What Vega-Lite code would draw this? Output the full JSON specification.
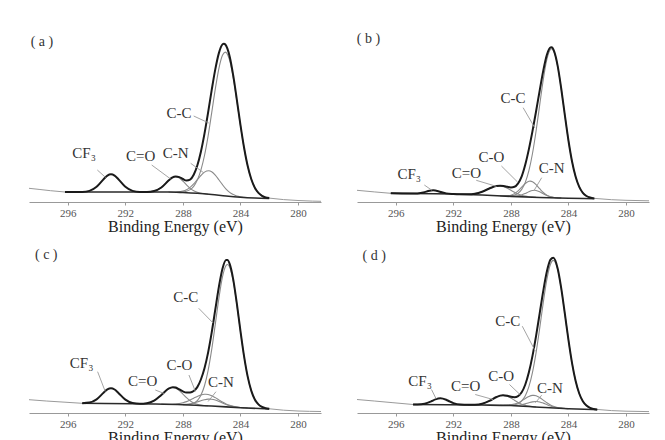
{
"$schema":"https://vega.github.io/schema/vega-lite/v6.json",
"padding":{"left":27,"top":27,"right":5,"bottom":0},
"background":"white",
"config":{"view":{"stroke":null},"font":"Liberation Serif"},
"datasets":{"all":[
{"p":"a","k":"env","x":296.2,"y":10},{"p":"a","k":"env","x":295.5,"y":10},{"p":"a","k":"env","x":295,"y":10.1},{"p":"a","k":"env","x":294.5,"y":11.1},{"p":"a","k":"env","x":294,"y":15.2},{"p":"a","k":"env","x":293.5,"y":23},{"p":"a","k":"env","x":293.25,"y":26.4},{"p":"a","k":"env","x":293,"y":27.7},{"p":"a","k":"env","x":292.75,"y":26.4},{"p":"a","k":"env","x":292.5,"y":23},{"p":"a","k":"env","x":292,"y":15.2},{"p":"a","k":"env","x":291.5,"y":11.1},{"p":"a","k":"env","x":291,"y":10.1},{"p":"a","k":"env","x":290.5,"y":10.1},{"p":"a","k":"env","x":290,"y":11},{"p":"a","k":"env","x":289.5,"y":14.5},{"p":"a","k":"env","x":289,"y":21.4},{"p":"a","k":"env","x":288.75,"y":24.4},{"p":"a","k":"env","x":288.5,"y":25.6},{"p":"a","k":"env","x":288.25,"y":24.9},{"p":"a","k":"env","x":288,"y":23},{"p":"a","k":"env","x":287.75,"y":21.5},{"p":"a","k":"env","x":287.5,"y":22.4},{"p":"a","k":"env","x":287.25,"y":27.2},{"p":"a","k":"env","x":287,"y":36.5},{"p":"a","k":"env","x":286.75,"y":50.3},{"p":"a","k":"env","x":286.5,"y":68.4},{"p":"a","k":"env","x":286.25,"y":89.4},{"p":"a","k":"env","x":286,"y":111.8},{"p":"a","k":"env","x":285.75,"y":132.6},{"p":"a","k":"env","x":285.5,"y":148.9},{"p":"a","k":"env","x":285.25,"y":157.6},{"p":"a","k":"env","x":285.15,"y":158.3},{"p":"a","k":"env","x":285.05,"y":157.5},{"p":"a","k":"env","x":284.75,"y":145.5},{"p":"a","k":"env","x":284.5,"y":126.3},{"p":"a","k":"env","x":284.25,"y":102.2},{"p":"a","k":"env","x":284,"y":77.1},{"p":"a","k":"env","x":283.75,"y":54.5},{"p":"a","k":"env","x":283.5,"y":36.2},{"p":"a","k":"env","x":283.25,"y":23},{"p":"a","k":"env","x":283,"y":14.3},{"p":"a","k":"env","x":282.75,"y":9.1},{"p":"a","k":"env","x":282.5,"y":6.2},{"p":"a","k":"env","x":282.25,"y":4.6},{"p":"a","k":"env","x":282,"y":3.9},
{"p":"a","k":"base","x":296.2,"y":10},{"p":"a","k":"base","x":289,"y":10},{"p":"a","k":"base","x":288,"y":9.5},{"p":"a","k":"base","x":287,"y":8.7},{"p":"a","k":"base","x":286,"y":7.5},{"p":"a","k":"base","x":285,"y":6},{"p":"a","k":"base","x":284,"y":4.8},{"p":"a","k":"base","x":283,"y":4},{"p":"a","k":"base","x":282,"y":3.5},
{"p":"a","k":"comp","s":"CO","x":290.75,"y":10},{"p":"a","k":"comp","s":"CO","x":290.5,"y":10.1},{"p":"a","k":"comp","s":"CO","x":290,"y":11},{"p":"a","k":"comp","s":"CO","x":289.5,"y":14.5},{"p":"a","k":"comp","s":"CO","x":289,"y":21.4},{"p":"a","k":"comp","s":"CO","x":288.75,"y":24.2},{"p":"a","k":"comp","s":"CO","x":288.5,"y":25.25},{"p":"a","k":"comp","s":"CO","x":288.25,"y":24},{"p":"a","k":"comp","s":"CO","x":288,"y":20.9},{"p":"a","k":"comp","s":"CO","x":287.75,"y":17.05},{"p":"a","k":"comp","s":"CO","x":287.5,"y":13.6},{"p":"a","k":"comp","s":"CO","x":287.25,"y":11.2},{"p":"a","k":"comp","s":"CO","x":287,"y":9.7},{"p":"a","k":"comp","s":"CO","x":286.75,"y":8.8},{"p":"a","k":"comp","s":"CO","x":286.5,"y":8.2},{"p":"a","k":"comp","s":"CO","x":286.25,"y":7.8},
{"p":"a","k":"comp","s":"CN","x":289,"y":10},{"p":"a","k":"comp","s":"CN","x":288.5,"y":10},{"p":"a","k":"comp","s":"CN","x":288,"y":11},{"p":"a","k":"comp","s":"CN","x":287.75,"y":12.3},{"p":"a","k":"comp","s":"CN","x":287.5,"y":14.6},{"p":"a","k":"comp","s":"CN","x":287.25,"y":18.1},{"p":"a","k":"comp","s":"CN","x":287,"y":22.3},{"p":"a","k":"comp","s":"CN","x":286.75,"y":26.5},{"p":"a","k":"comp","s":"CN","x":286.5,"y":29.9},{"p":"a","k":"comp","s":"CN","x":286.2,"y":31.2},{"p":"a","k":"comp","s":"CN","x":286,"y":30.2},{"p":"a","k":"comp","s":"CN","x":285.75,"y":26.9},{"p":"a","k":"comp","s":"CN","x":285.5,"y":22.25},{"p":"a","k":"comp","s":"CN","x":285.25,"y":17.3},{"p":"a","k":"comp","s":"CN","x":285,"y":12.9},{"p":"a","k":"comp","s":"CN","x":284.75,"y":9.6},{"p":"a","k":"comp","s":"CN","x":284.5,"y":7.4},{"p":"a","k":"comp","s":"CN","x":284.25,"y":6},{"p":"a","k":"comp","s":"CN","x":284,"y":5.2},{"p":"a","k":"comp","s":"CN","x":283.5,"y":4.5},
{"p":"a","k":"comp","s":"CC","x":288.5,"y":9.8},{"p":"a","k":"comp","s":"CC","x":288,"y":10.1},{"p":"a","k":"comp","s":"CC","x":287.75,"y":10.8},{"p":"a","k":"comp","s":"CC","x":287.5,"y":12.4},{"p":"a","k":"comp","s":"CC","x":287.25,"y":15.7},{"p":"a","k":"comp","s":"CC","x":287,"y":21.9},{"p":"a","k":"comp","s":"CC","x":286.75,"y":31.8},{"p":"a","k":"comp","s":"CC","x":286.5,"y":46.5},{"p":"a","k":"comp","s":"CC","x":286.25,"y":65.9},{"p":"a","k":"comp","s":"CC","x":286,"y":89.1},{"p":"a","k":"comp","s":"CC","x":285.75,"y":112.8},{"p":"a","k":"comp","s":"CC","x":285.5,"y":133.4},{"p":"a","k":"comp","s":"CC","x":285.25,"y":146.7},{"p":"a","k":"comp","s":"CC","x":285.05,"y":149.9},{"p":"a","k":"comp","s":"CC","x":284.75,"y":141.6},{"p":"a","k":"comp","s":"CC","x":284.5,"y":124.3},{"p":"a","k":"comp","s":"CC","x":284.25,"y":101.3},{"p":"a","k":"comp","s":"CC","x":284,"y":76.7},{"p":"a","k":"comp","s":"CC","x":283.75,"y":54.3},{"p":"a","k":"comp","s":"CC","x":283.5,"y":36.1},{"p":"a","k":"comp","s":"CC","x":283.25,"y":23},{"p":"a","k":"comp","s":"CC","x":283,"y":14.3},{"p":"a","k":"comp","s":"CC","x":282.75,"y":9.1},{"p":"a","k":"comp","s":"CC","x":282.5,"y":6.2},{"p":"a","k":"comp","s":"CC","x":282.25,"y":4.6},{"p":"a","k":"comp","s":"CC","x":282,"y":3.9},
{"p":"a","k":"raw","s":"L","x":298.7,"y":13.7},{"p":"a","k":"raw","s":"L","x":298,"y":12.6},{"p":"a","k":"raw","s":"L","x":297.2,"y":11.3},{"p":"a","k":"raw","s":"L","x":296.2,"y":10},
{"p":"a","k":"raw","s":"R","x":282,"y":3.9},{"p":"a","k":"raw","s":"R","x":281,"y":2.4},{"p":"a","k":"raw","s":"R","x":280,"y":1.5},{"p":"a","k":"raw","s":"R","x":279,"y":0.9},{"p":"a","k":"raw","s":"R","x":278.4,"y":0.7},
{"p":"a","k":"lead","s":"1","x":287.25,"y":86},{"p":"a","k":"lead","s":"1","x":286.2,"y":79},{"p":"a","k":"lead","s":"2","x":293.95,"y":32},{"p":"a","k":"lead","s":"2","x":293.37,"y":24.5},{"p":"a","k":"lead","s":"3","x":290.17,"y":37},{"p":"a","k":"lead","s":"3","x":288.85,"y":23},{"p":"a","k":"lead","s":"4","x":287.46,"y":38.7},{"p":"a","k":"lead","s":"4","x":286.53,"y":29},
{"p":"a","k":"lab","t":"C-C","x":288.27,"y":88.7},{"p":"a","k":"lab","t":"CF₃","x":294.87,"y":48.7},{"p":"a","k":"lab","t":"C=O","x":290.94,"y":46},{"p":"a","k":"lab","t":"C-N","x":288.5,"y":49.3},
{"p":"a","k":"tag","t":"( a )","x":297.8,"y":160.3},

{"p":"b","k":"env","x":296.35,"y":8.7},{"p":"b","k":"env","x":295.5,"y":8.56},{"p":"b","k":"env","x":295,"y":8.49},{"p":"b","k":"env","x":294.5,"y":8.62},{"p":"b","k":"env","x":294,"y":9.86},{"p":"b","k":"env","x":293.75,"y":10.93},{"p":"b","k":"env","x":293.4,"y":11.72},{"p":"b","k":"env","x":293,"y":10.59},{"p":"b","k":"env","x":292.75,"y":9.45},{"p":"b","k":"env","x":292.5,"y":8.63},{"p":"b","k":"env","x":292,"y":8.04},{"p":"b","k":"env","x":291.5,"y":7.79},{"p":"b","k":"env","x":291,"y":7.74},{"p":"b","k":"env","x":290.5,"y":8.34},{"p":"b","k":"env","x":290,"y":10.3},{"p":"b","k":"env","x":289.5,"y":13.52},{"p":"b","k":"env","x":289.25,"y":15.04},{"p":"b","k":"env","x":289,"y":16},{"p":"b","k":"env","x":288.75,"y":16.3},{"p":"b","k":"env","x":288.5,"y":16},{"p":"b","k":"env","x":288.25,"y":15.2},{"p":"b","k":"env","x":288,"y":14.6},{"p":"b","k":"env","x":287.75,"y":15.2},{"p":"b","k":"env","x":287.5,"y":18.6},{"p":"b","k":"env","x":287.25,"y":25.65},{"p":"b","k":"env","x":287,"y":37.44},{"p":"b","k":"env","x":286.75,"y":52.89},{"p":"b","k":"env","x":286.5,"y":70.9},{"p":"b","k":"env","x":286.25,"y":90.75},{"p":"b","k":"env","x":286,"y":111.43},{"p":"b","k":"env","x":285.75,"y":131.39},{"p":"b","k":"env","x":285.5,"y":147.14},{"p":"b","k":"env","x":285.25,"y":154.5},{"p":"b","k":"env","x":285.17,"y":154.64},{"p":"b","k":"env","x":285,"y":150.84},{"p":"b","k":"env","x":284.75,"y":136.16},{"p":"b","k":"env","x":284.5,"y":113.24},{"p":"b","k":"env","x":284.25,"y":86.79},{"p":"b","k":"env","x":284,"y":61.5},{"p":"b","k":"env","x":283.75,"y":40.53},{"p":"b","k":"env","x":283.5,"y":25.26},{"p":"b","k":"env","x":283.25,"y":15.19},{"p":"b","k":"env","x":283,"y":9.22},{"p":"b","k":"env","x":282.75,"y":6.02},{"p":"b","k":"env","x":282.5,"y":4.44},{"p":"b","k":"env","x":282.2,"y":3.63},
{"p":"b","k":"base","x":296.35,"y":8.7},{"p":"b","k":"base","x":292,"y":8},{"p":"b","k":"base","x":290,"y":7},{"p":"b","k":"base","x":288,"y":5.6},{"p":"b","k":"base","x":286,"y":4.5},{"p":"b","k":"base","x":284,"y":3.8},{"p":"b","k":"base","x":282.2,"y":3.3},
{"p":"b","k":"comp","s":"CO","x":291.5,"y":7.79},{"p":"b","k":"comp","s":"CO","x":291,"y":7.74},{"p":"b","k":"comp","s":"CO","x":290.5,"y":8.34},{"p":"b","k":"comp","s":"CO","x":290,"y":10.3},{"p":"b","k":"comp","s":"CO","x":289.5,"y":13.52},{"p":"b","k":"comp","s":"CO","x":289.25,"y":15.04},{"p":"b","k":"comp","s":"CO","x":289,"y":16},{"p":"b","k":"comp","s":"CO","x":288.75,"y":16.13},{"p":"b","k":"comp","s":"CO","x":288.5,"y":15.28},{"p":"b","k":"comp","s":"CO","x":288.25,"y":13.71},{"p":"b","k":"comp","s":"CO","x":288,"y":11.72},{"p":"b","k":"comp","s":"CO","x":287.75,"y":9.74},{"p":"b","k":"comp","s":"CO","x":287.5,"y":8.06},{"p":"b","k":"comp","s":"CO","x":287.25,"y":6.77},{"p":"b","k":"comp","s":"CO","x":287,"y":5.88},{"p":"b","k":"comp","s":"CO","x":286.75,"y":5.31},{"p":"b","k":"comp","s":"CO","x":286.5,"y":4.95},{"p":"b","k":"comp","s":"CO","x":286.25,"y":4.71},
{"p":"b","k":"comp","s":"CO2","x":288.75,"y":6.16},{"p":"b","k":"comp","s":"CO2","x":288.5,"y":6.08},{"p":"b","k":"comp","s":"CO2","x":288.25,"y":6.21},{"p":"b","k":"comp","s":"CO2","x":288,"y":6.82},{"p":"b","k":"comp","s":"CO2","x":287.75,"y":8.35},{"p":"b","k":"comp","s":"CO2","x":287.5,"y":11.09},{"p":"b","k":"comp","s":"CO2","x":287.25,"y":14.79},{"p":"b","k":"comp","s":"CO2","x":287,"y":18.51},{"p":"b","k":"comp","s":"CO2","x":286.75,"y":20.71},{"p":"b","k":"comp","s":"CO2","x":286.65,"y":20.86},{"p":"b","k":"comp","s":"CO2","x":286.5,"y":20.28},{"p":"b","k":"comp","s":"CO2","x":286.25,"y":17.39},{"p":"b","k":"comp","s":"CO2","x":286,"y":13.3},{"p":"b","k":"comp","s":"CO2","x":285.75,"y":9.51},{"p":"b","k":"comp","s":"CO2","x":285.5,"y":6.8},{"p":"b","k":"comp","s":"CO2","x":285.25,"y":5.24},{"p":"b","k":"comp","s":"CO2","x":285,"y":4.49},{"p":"b","k":"comp","s":"CO2","x":284.75,"y":4.16},{"p":"b","k":"comp","s":"CO2","x":284.5,"y":4},
{"p":"b","k":"comp","s":"CN","x":288.25,"y":5.8},{"p":"b","k":"comp","s":"CN","x":288,"y":5.68},{"p":"b","k":"comp","s":"CN","x":287.75,"y":5.74},{"p":"b","k":"comp","s":"CN","x":287.5,"y":6.13},{"p":"b","k":"comp","s":"CN","x":287.25,"y":7.05},{"p":"b","k":"comp","s":"CN","x":287,"y":8.55},{"p":"b","k":"comp","s":"CN","x":286.75,"y":10.29},{"p":"b","k":"comp","s":"CN","x":286.5,"y":11.53},{"p":"b","k":"comp","s":"CN","x":286.35,"y":11.7},{"p":"b","k":"comp","s":"CN","x":286.25,"y":11.53},{"p":"b","k":"comp","s":"CN","x":286,"y":10.23},{"p":"b","k":"comp","s":"CN","x":285.75,"y":8.29},{"p":"b","k":"comp","s":"CN","x":285.5,"y":6.47},{"p":"b","k":"comp","s":"CN","x":285.25,"y":5.2},{"p":"b","k":"comp","s":"CN","x":285,"y":4.5},{"p":"b","k":"comp","s":"CN","x":284.75,"y":4.16},{"p":"b","k":"comp","s":"CN","x":284.5,"y":4},
{"p":"b","k":"comp","s":"CC","x":288.5,"y":6.02},{"p":"b","k":"comp","s":"CC","x":288,"y":6.18},{"p":"b","k":"comp","s":"CC","x":287.75,"y":6.94},{"p":"b","k":"comp","s":"CC","x":287.5,"y":8.79},{"p":"b","k":"comp","s":"CC","x":287.25,"y":12.61},{"p":"b","k":"comp","s":"CC","x":287,"y":19.65},{"p":"b","k":"comp","s":"CC","x":286.75,"y":31.31},{"p":"b","k":"comp","s":"CC","x":286.5,"y":48.48},{"p":"b","k":"comp","s":"CC","x":286.25,"y":71.04},{"p":"b","k":"comp","s":"CC","x":286,"y":96.9},{"p":"b","k":"comp","s":"CC","x":285.75,"y":122.41},{"p":"b","k":"comp","s":"CC","x":285.5,"y":142.53},{"p":"b","k":"comp","s":"CC","x":285.25,"y":152.54},{"p":"b","k":"comp","s":"CC","x":285.17,"y":153.21},{"p":"b","k":"comp","s":"CC","x":285,"y":150.15},{"p":"b","k":"comp","s":"CC","x":284.75,"y":135.96},{"p":"b","k":"comp","s":"CC","x":284.5,"y":113.18},{"p":"b","k":"comp","s":"CC","x":284.25,"y":86.79},{"p":"b","k":"comp","s":"CC","x":284,"y":61.5},{"p":"b","k":"comp","s":"CC","x":283.75,"y":40.53},{"p":"b","k":"comp","s":"CC","x":283.5,"y":25.26},{"p":"b","k":"comp","s":"CC","x":283.25,"y":15.19},{"p":"b","k":"comp","s":"CC","x":283,"y":9.22},{"p":"b","k":"comp","s":"CC","x":282.75,"y":6.02},{"p":"b","k":"comp","s":"CC","x":282.5,"y":4.44},{"p":"b","k":"comp","s":"CC","x":282.2,"y":3.63},
{"p":"b","k":"raw","s":"L","x":298.7,"y":11.7},{"p":"b","k":"raw","s":"L","x":297.5,"y":10.1},{"p":"b","k":"raw","s":"L","x":296.35,"y":8.7},
{"p":"b","k":"raw","s":"R","x":282.2,"y":3.63},{"p":"b","k":"raw","s":"R","x":281,"y":2.3},{"p":"b","k":"raw","s":"R","x":280,"y":1.7},{"p":"b","k":"raw","s":"R","x":278.4,"y":1.2},
{"p":"b","k":"lead","s":"1","x":287.15,"y":94.3},{"p":"b","k":"lead","s":"1","x":286.33,"y":74},{"p":"b","k":"lead","s":"2","x":294.02,"y":17},{"p":"b","k":"lead","s":"2","x":293.5,"y":11.8},{"p":"b","k":"lead","s":"3","x":290.41,"y":21.7},{"p":"b","k":"lead","s":"3","x":289,"y":15.6},{"p":"b","k":"lead","s":"4","x":288.66,"y":36},{"p":"b","k":"lead","s":"4","x":287.54,"y":20},{"p":"b","k":"lead","s":"5","x":285.86,"y":24.3},{"p":"b","k":"lead","s":"5","x":286.38,"y":11.8},
{"p":"b","k":"lab","t":"C-C","x":287.85,"y":104.3},{"p":"b","k":"lab","t":"CF₃","x":295.07,"y":27.7},{"p":"b","k":"lab","t":"C=O","x":291.1,"y":29.3},{"p":"b","k":"lab","t":"C-O","x":289.36,"y":45},{"p":"b","k":"lab","t":"C-N","x":285.16,"y":34.3},
{"p":"b","k":"tag","t":"( b )","x":297.9,"y":162.7},

{"p":"c","k":"env","x":295,"y":9.78},{"p":"c","k":"env","x":294.5,"y":10.42},{"p":"c","k":"env","x":294,"y":13.65},{"p":"c","k":"env","x":293.5,"y":20.49},{"p":"c","k":"env","x":293.25,"y":23.54},{"p":"c","k":"env","x":293,"y":24.72},{"p":"c","k":"env","x":292.75,"y":23.48},{"p":"c","k":"env","x":292.5,"y":20.35},{"p":"c","k":"env","x":292,"y":13.37},{"p":"c","k":"env","x":291.5,"y":10},{"p":"c","k":"env","x":291,"y":9.32},{"p":"c","k":"env","x":290.5,"y":9.83},{"p":"c","k":"env","x":290,"y":12.36},{"p":"c","k":"env","x":289.5,"y":18.05},{"p":"c","k":"env","x":289,"y":24.36},{"p":"c","k":"env","x":288.7,"y":25.86},{"p":"c","k":"env","x":288.5,"y":25.43},{"p":"c","k":"env","x":288.25,"y":23.59},{"p":"c","k":"env","x":288,"y":21.6},{"p":"c","k":"env","x":287.75,"y":20.5},{"p":"c","k":"env","x":287.5,"y":20.6},{"p":"c","k":"env","x":287.25,"y":22},{"p":"c","k":"env","x":287,"y":25.89},{"p":"c","k":"env","x":286.75,"y":33.51},{"p":"c","k":"env","x":286.5,"y":44.74},{"p":"c","k":"env","x":286.25,"y":60.4},{"p":"c","k":"env","x":286,"y":80.33},{"p":"c","k":"env","x":285.75,"y":103.29},{"p":"c","k":"env","x":285.5,"y":126.14},{"p":"c","k":"env","x":285.25,"y":144.33},{"p":"c","k":"env","x":285,"y":152.93},{"p":"c","k":"env","x":284.9,"y":152.98},{"p":"c","k":"env","x":284.75,"y":149.11},{"p":"c","k":"env","x":284.5,"y":133.43},{"p":"c","k":"env","x":284.25,"y":109.34},{"p":"c","k":"env","x":284,"y":82.17},{"p":"c","k":"env","x":283.75,"y":56.89},{"p":"c","k":"env","x":283.5,"y":36.61},{"p":"c","k":"env","x":283.25,"y":22.41},{"p":"c","k":"env","x":283,"y":13.55},{"p":"c","k":"env","x":282.75,"y":8.58},{"p":"c","k":"env","x":282.5,"y":6.04},{"p":"c","k":"env","x":282.25,"y":4.81},{"p":"c","k":"env","x":282,"y":4.22},
{"p":"c","k":"base","x":295,"y":9.7},{"p":"c","k":"base","x":290,"y":9},{"p":"c","k":"base","x":288,"y":8.3},{"p":"c","k":"base","x":286,"y":7},{"p":"c","k":"base","x":284,"y":5.3},{"p":"c","k":"base","x":282,"y":4},
{"p":"c","k":"comp","s":"CO","x":291,"y":9.24},{"p":"c","k":"comp","s":"CO","x":290.5,"y":9.83},{"p":"c","k":"comp","s":"CO","x":290,"y":12.36},{"p":"c","k":"comp","s":"CO","x":289.5,"y":18.03},{"p":"c","k":"comp","s":"CO","x":289,"y":24.25},{"p":"c","k":"comp","s":"CO","x":288.7,"y":25.55},{"p":"c","k":"comp","s":"CO","x":288.5,"y":24.84},{"p":"c","k":"comp","s":"CO","x":288.25,"y":22.39},{"p":"c","k":"comp","s":"CO","x":288,"y":18.93},{"p":"c","k":"comp","s":"CO","x":287.75,"y":15.29},{"p":"c","k":"comp","s":"CO","x":287.5,"y":12.25},{"p":"c","k":"comp","s":"CO","x":287.25,"y":10.07},{"p":"c","k":"comp","s":"CO","x":287,"y":8.71},{"p":"c","k":"comp","s":"CO","x":286.75,"y":7.93},{"p":"c","k":"comp","s":"CO","x":286.5,"y":7.49},{"p":"c","k":"comp","s":"CO","x":286.25,"y":7.21},
{"p":"c","k":"comp","s":"CO2","x":289.5,"y":8.85},{"p":"c","k":"comp","s":"CO2","x":289,"y":8.76},{"p":"c","k":"comp","s":"CO2","x":288.5,"y":9.02},{"p":"c","k":"comp","s":"CO2","x":288,"y":10.26},{"p":"c","k":"comp","s":"CO2","x":287.75,"y":11.39},{"p":"c","k":"comp","s":"CO2","x":287.5,"y":12.95},{"p":"c","k":"comp","s":"CO2","x":287.25,"y":14.78},{"p":"c","k":"comp","s":"CO2","x":287,"y":16.61},{"p":"c","k":"comp","s":"CO2","x":286.75,"y":18.06},{"p":"c","k":"comp","s":"CO2","x":286.5,"y":18.75},{"p":"c","k":"comp","s":"CO2","x":286.4,"y":18.76},{"p":"c","k":"comp","s":"CO2","x":286.25,"y":18.48},{"p":"c","k":"comp","s":"CO2","x":286,"y":17.29},{"p":"c","k":"comp","s":"CO2","x":285.75,"y":15.37},{"p":"c","k":"comp","s":"CO2","x":285.5,"y":13.14},{"p":"c","k":"comp","s":"CO2","x":285.25,"y":10.96},{"p":"c","k":"comp","s":"CO2","x":285,"y":9.11},{"p":"c","k":"comp","s":"CO2","x":284.75,"y":7.68},{"p":"c","k":"comp","s":"CO2","x":284.5,"y":6.67},{"p":"c","k":"comp","s":"CO2","x":284.25,"y":5.98},{"p":"c","k":"comp","s":"CO2","x":284,"y":5.51},{"p":"c","k":"comp","s":"CO2","x":283.5,"y":5.01},
{"p":"c","k":"comp","s":"CN","x":288.5,"y":8.53},{"p":"c","k":"comp","s":"CN","x":288,"y":8.61},{"p":"c","k":"comp","s":"CN","x":287.75,"y":8.8},{"p":"c","k":"comp","s":"CN","x":287.5,"y":9.25},{"p":"c","k":"comp","s":"CN","x":287.25,"y":10},{"p":"c","k":"comp","s":"CN","x":287,"y":11.05},{"p":"c","k":"comp","s":"CN","x":286.75,"y":12.23},{"p":"c","k":"comp","s":"CN","x":286.5,"y":13.26},{"p":"c","k":"comp","s":"CN","x":286.25,"y":13.83},{"p":"c","k":"comp","s":"CN","x":286.1,"y":13.86},{"p":"c","k":"comp","s":"CN","x":286,"y":13.74},{"p":"c","k":"comp","s":"CN","x":285.75,"y":12.91},{"p":"c","k":"comp","s":"CN","x":285.5,"y":11.58},{"p":"c","k":"comp","s":"CN","x":285.25,"y":10.03},{"p":"c","k":"comp","s":"CN","x":285,"y":8.57},{"p":"c","k":"comp","s":"CN","x":284.75,"y":7.37},{"p":"c","k":"comp","s":"CN","x":284.5,"y":6.49},{"p":"c","k":"comp","s":"CN","x":284.25,"y":5.87},{"p":"c","k":"comp","s":"CN","x":284,"y":5.46},{"p":"c","k":"comp","s":"CN","x":283.75,"y":5.2},
{"p":"c","k":"comp","s":"CC","x":288,"y":8.39},{"p":"c","k":"comp","s":"CC","x":287.75,"y":8.42},{"p":"c","k":"comp","s":"CC","x":287.5,"y":8.78},{"p":"c","k":"comp","s":"CC","x":287.25,"y":9.86},{"p":"c","k":"comp","s":"CC","x":287,"y":12.47},{"p":"c","k":"comp","s":"CC","x":286.75,"y":17.76},{"p":"c","k":"comp","s":"CC","x":286.5,"y":27.23},{"p":"c","k":"comp","s":"CC","x":286.25,"y":42.36},{"p":"c","k":"comp","s":"CC","x":286,"y":63.3},{"p":"c","k":"comp","s":"CC","x":285.75,"y":88.59},{"p":"c","k":"comp","s":"CC","x":285.5,"y":114.58},{"p":"c","k":"comp","s":"CC","x":285.25,"y":136.06},{"p":"c","k":"comp","s":"CC","x":285,"y":147.55},{"p":"c","k":"comp","s":"CC","x":284.9,"y":148.57},{"p":"c","k":"comp","s":"CC","x":284.75,"y":145.94},{"p":"c","k":"comp","s":"CC","x":284.5,"y":131.73},{"p":"c","k":"comp","s":"CC","x":284.25,"y":108.51},{"p":"c","k":"comp","s":"CC","x":284,"y":81.8},{"p":"c","k":"comp","s":"CC","x":283.75,"y":56.74},{"p":"c","k":"comp","s":"CC","x":283.5,"y":36.58},{"p":"c","k":"comp","s":"CC","x":283.25,"y":22.41},{"p":"c","k":"comp","s":"CC","x":283,"y":13.55},{"p":"c","k":"comp","s":"CC","x":282.75,"y":8.58},{"p":"c","k":"comp","s":"CC","x":282.5,"y":6.04},{"p":"c","k":"comp","s":"CC","x":282.25,"y":4.81},{"p":"c","k":"comp","s":"CC","x":282,"y":4.22},
{"p":"c","k":"raw","s":"L","x":298.7,"y":13.3},{"p":"c","k":"raw","s":"L","x":297.5,"y":12},{"p":"c","k":"raw","s":"L","x":296.2,"y":10.8},{"p":"c","k":"raw","s":"L","x":295,"y":9.7},
{"p":"c","k":"raw","s":"R","x":282,"y":4.22},{"p":"c","k":"raw","s":"R","x":281,"y":2.8},{"p":"c","k":"raw","s":"R","x":280,"y":2},{"p":"c","k":"raw","s":"R","x":278.4,"y":1.5},
{"p":"c","k":"lead","s":"1","x":286.9,"y":104.7},{"p":"c","k":"lead","s":"1","x":285.9,"y":90},{"p":"c","k":"lead","s":"2","x":293.93,"y":41.3},{"p":"c","k":"lead","s":"2","x":293.4,"y":21.5},{"p":"c","k":"lead","s":"3","x":289.92,"y":23},{"p":"c","k":"lead","s":"3","x":289.3,"y":19.5},{"p":"c","k":"lead","s":"4","x":287.58,"y":38},{"p":"c","k":"lead","s":"4","x":287.13,"y":21.5},{"p":"c","k":"lead","s":"5","x":285.7,"y":21.3},{"p":"c","k":"lead","s":"5","x":286.25,"y":11.5},
{"p":"c","k":"lab","t":"C-C","x":287.8,"y":116.3},{"p":"c","k":"lab","t":"CF₃","x":295.04,"y":49.7},{"p":"c","k":"lab","t":"C=O","x":290.8,"y":32},{"p":"c","k":"lab","t":"C-O","x":288.25,"y":48},{"p":"c","k":"lab","t":"C-N","x":285.35,"y":31.3},
{"p":"c","k":"tag","t":"( c )","x":297.5,"y":158},

{"p":"d","k":"env","x":294.8,"y":8.52},{"p":"d","k":"env","x":294.5,"y":8.57},{"p":"d","k":"env","x":294,"y":9.31},{"p":"d","k":"env","x":293.5,"y":11.96},{"p":"d","k":"env","x":293.25,"y":13.66},{"p":"d","k":"env","x":292.9,"y":14.8},{"p":"d","k":"env","x":292.5,"y":13.26},{"p":"d","k":"env","x":292.25,"y":11.48},{"p":"d","k":"env","x":292,"y":9.93},{"p":"d","k":"env","x":291.5,"y":8.42},{"p":"d","k":"env","x":291,"y":8.15},{"p":"d","k":"env","x":290.5,"y":8.31},{"p":"d","k":"env","x":290,"y":9.33},{"p":"d","k":"env","x":289.5,"y":12.09},{"p":"d","k":"env","x":289,"y":15.98},{"p":"d","k":"env","x":288.75,"y":17.35},{"p":"d","k":"env","x":288.55,"y":17.76},{"p":"d","k":"env","x":288.25,"y":17.16},{"p":"d","k":"env","x":288,"y":16.15},{"p":"d","k":"env","x":287.75,"y":15.8},{"p":"d","k":"env","x":287.5,"y":16.9},{"p":"d","k":"env","x":287.25,"y":20.67},{"p":"d","k":"env","x":287,"y":28.5},{"p":"d","k":"env","x":286.75,"y":40.65},{"p":"d","k":"env","x":286.5,"y":57.11},{"p":"d","k":"env","x":286.25,"y":77.17},{"p":"d","k":"env","x":286,"y":99.6},{"p":"d","k":"env","x":285.75,"y":122.17},{"p":"d","k":"env","x":285.5,"y":141.41},{"p":"d","k":"env","x":285.25,"y":153.29},{"p":"d","k":"env","x":285.05,"y":155.27},{"p":"d","k":"env","x":284.75,"y":144.57},{"p":"d","k":"env","x":284.5,"y":124.67},{"p":"d","k":"env","x":284.25,"y":99.32},{"p":"d","k":"env","x":284,"y":73.05},{"p":"d","k":"env","x":283.75,"y":49.88},{"p":"d","k":"env","x":283.5,"y":31.95},{"p":"d","k":"env","x":283.25,"y":19.53},{"p":"d","k":"env","x":283,"y":11.8},{"p":"d","k":"env","x":282.75,"y":7.46},{"p":"d","k":"env","x":282.5,"y":5.17},{"p":"d","k":"env","x":282.25,"y":4.08},{"p":"d","k":"env","x":282,"y":3.54},
{"p":"d","k":"base","x":294.8,"y":8.5},{"p":"d","k":"base","x":290,"y":8},{"p":"d","k":"base","x":288,"y":7.5},{"p":"d","k":"base","x":286,"y":5.8},{"p":"d","k":"base","x":284,"y":4.3},{"p":"d","k":"base","x":282,"y":3.3},
{"p":"d","k":"comp","s":"CO","x":291,"y":8.13},{"p":"d","k":"comp","s":"CO","x":290.5,"y":8.31},{"p":"d","k":"comp","s":"CO","x":290,"y":9.33},{"p":"d","k":"comp","s":"CO","x":289.5,"y":12.09},{"p":"d","k":"comp","s":"CO","x":289,"y":15.98},{"p":"d","k":"comp","s":"CO","x":288.75,"y":17.31},{"p":"d","k":"comp","s":"CO","x":288.55,"y":17.64},{"p":"d","k":"comp","s":"CO","x":288.25,"y":16.73},{"p":"d","k":"comp","s":"CO","x":288,"y":14.98},{"p":"d","k":"comp","s":"CO","x":287.75,"y":12.7},{"p":"d","k":"comp","s":"CO","x":287.5,"y":10.55},{"p":"d","k":"comp","s":"CO","x":287.25,"y":8.84},{"p":"d","k":"comp","s":"CO","x":287,"y":7.65},{"p":"d","k":"comp","s":"CO","x":286.75,"y":6.89},{"p":"d","k":"comp","s":"CO","x":286.5,"y":6.41},{"p":"d","k":"comp","s":"CO","x":286.25,"y":6.07},
{"p":"d","k":"comp","s":"CO2","x":288.75,"y":7.72},{"p":"d","k":"comp","s":"CO2","x":288.5,"y":7.7},{"p":"d","k":"comp","s":"CO2","x":288.25,"y":7.84},{"p":"d","k":"comp","s":"CO2","x":288,"y":8.22},{"p":"d","k":"comp","s":"CO2","x":287.75,"y":8.89},{"p":"d","k":"comp","s":"CO2","x":287.5,"y":10.18},{"p":"d","k":"comp","s":"CO2","x":287.25,"y":12.12},{"p":"d","k":"comp","s":"CO2","x":287,"y":14.44},{"p":"d","k":"comp","s":"CO2","x":286.75,"y":16.51},{"p":"d","k":"comp","s":"CO2","x":286.5,"y":17.61},{"p":"d","k":"comp","s":"CO2","x":286.4,"y":17.65},{"p":"d","k":"comp","s":"CO2","x":286.25,"y":17.23},{"p":"d","k":"comp","s":"CO2","x":286,"y":15.47},{"p":"d","k":"comp","s":"CO2","x":285.75,"y":12.89},{"p":"d","k":"comp","s":"CO2","x":285.5,"y":10.21},{"p":"d","k":"comp","s":"CO2","x":285.25,"y":7.98},{"p":"d","k":"comp","s":"CO2","x":285.05,"y":6.69},{"p":"d","k":"comp","s":"CO2","x":284.75,"y":5.46},{"p":"d","k":"comp","s":"CO2","x":284.5,"y":4.91},{"p":"d","k":"comp","s":"CO2","x":284.25,"y":4.57},{"p":"d","k":"comp","s":"CO2","x":284,"y":4.33},
{"p":"d","k":"comp","s":"CN","x":288.25,"y":7.59},{"p":"d","k":"comp","s":"CN","x":288,"y":7.6},{"p":"d","k":"comp","s":"CN","x":287.75,"y":7.58},{"p":"d","k":"comp","s":"CN","x":287.5,"y":7.76},{"p":"d","k":"comp","s":"CN","x":287.25,"y":8.27},{"p":"d","k":"comp","s":"CN","x":287,"y":9.15},{"p":"d","k":"comp","s":"CN","x":286.75,"y":10.23},{"p":"d","k":"comp","s":"CN","x":286.5,"y":11.15},{"p":"d","k":"comp","s":"CN","x":286.25,"y":11.49},{"p":"d","k":"comp","s":"CN","x":286.2,"y":11.47},{"p":"d","k":"comp","s":"CN","x":286,"y":11.03},{"p":"d","k":"comp","s":"CN","x":285.75,"y":9.89},{"p":"d","k":"comp","s":"CN","x":285.5,"y":8.43},{"p":"d","k":"comp","s":"CN","x":285.25,"y":7.05},{"p":"d","k":"comp","s":"CN","x":285.05,"y":6.17},{"p":"d","k":"comp","s":"CN","x":284.75,"y":5.27},{"p":"d","k":"comp","s":"CN","x":284.5,"y":4.84},{"p":"d","k":"comp","s":"CN","x":284.25,"y":4.54},{"p":"d","k":"comp","s":"CN","x":284,"y":4.32},
{"p":"d","k":"comp","s":"CC","x":288.5,"y":7.65},{"p":"d","k":"comp","s":"CC","x":288,"y":7.85},{"p":"d","k":"comp","s":"CC","x":287.75,"y":8.23},{"p":"d","k":"comp","s":"CC","x":287.5,"y":9.38},{"p":"d","k":"comp","s":"CC","x":287.25,"y":12.02},{"p":"d","k":"comp","s":"CC","x":287,"y":17.21},{"p":"d","k":"comp","s":"CC","x":286.75,"y":26.34},{"p":"d","k":"comp","s":"CC","x":286.5,"y":40.63},{"p":"d","k":"comp","s":"CC","x":286.25,"y":60.41},{"p":"d","k":"comp","s":"CC","x":286,"y":84.7},{"p":"d","k":"comp","s":"CC","x":285.75,"y":110.61},{"p":"d","k":"comp","s":"CC","x":285.5,"y":133.63},{"p":"d","k":"comp","s":"CC","x":285.25,"y":148.74},{"p":"d","k":"comp","s":"CC","x":285.05,"y":152.59},{"p":"d","k":"comp","s":"CC","x":284.75,"y":143.56},{"p":"d","k":"comp","s":"CC","x":284.5,"y":124.28},{"p":"d","k":"comp","s":"CC","x":284.25,"y":99.19},{"p":"d","k":"comp","s":"CC","x":284,"y":73},{"p":"d","k":"comp","s":"CC","x":283.75,"y":49.88},{"p":"d","k":"comp","s":"CC","x":283.5,"y":31.95},{"p":"d","k":"comp","s":"CC","x":283.25,"y":19.53},{"p":"d","k":"comp","s":"CC","x":283,"y":11.8},{"p":"d","k":"comp","s":"CC","x":282.75,"y":7.46},{"p":"d","k":"comp","s":"CC","x":282.5,"y":5.17},{"p":"d","k":"comp","s":"CC","x":282.25,"y":4.08},{"p":"d","k":"comp","s":"CC","x":282,"y":3.54},
{"p":"d","k":"raw","s":"L","x":298.7,"y":13.5},{"p":"d","k":"raw","s":"L","x":297.5,"y":12},{"p":"d","k":"raw","s":"L","x":296.2,"y":10.3},{"p":"d","k":"raw","s":"L","x":294.8,"y":8.5},
{"p":"d","k":"raw","s":"R","x":282,"y":3.54},{"p":"d","k":"raw","s":"R","x":281,"y":2.4},{"p":"d","k":"raw","s":"R","x":280,"y":1.8},{"p":"d","k":"raw","s":"R","x":278.4,"y":1.4},
{"p":"d","k":"lead","s":"1","x":287.21,"y":86.8},{"p":"d","k":"lead","s":"1","x":286.3,"y":61.8},{"p":"d","k":"lead","s":"2","x":293.52,"y":23.5},{"p":"d","k":"lead","s":"2","x":293.2,"y":14.2},{"p":"d","k":"lead","s":"3","x":290.48,"y":18.5},{"p":"d","k":"lead","s":"3","x":289.24,"y":13.5},{"p":"d","k":"lead","s":"4","x":288.1,"y":28.5},{"p":"d","k":"lead","s":"4","x":287.32,"y":17.8},{"p":"d","k":"lead","s":"5","x":285.86,"y":17.8},{"p":"d","k":"lead","s":"5","x":286.3,"y":10.2},
{"p":"d","k":"lab","t":"C-C","x":288.22,"y":91.8},{"p":"d","k":"lab","t":"CF₃","x":294.31,"y":31.8},{"p":"d","k":"lab","t":"C=O","x":291.15,"y":26.8},{"p":"d","k":"lab","t":"C-O","x":288.67,"y":36.8},{"p":"d","k":"lab","t":"C-N","x":285.29,"y":25.2},
{"p":"d","k":"tag","t":"( d )","x":297.5,"y":156.8}
]},
"data":{"name":"all"},
"transform":[
{"calculate":"datum.p=='a'||datum.p=='b'?'r1':'r2'","as":"row"},
{"calculate":"datum.p=='a'||datum.p=='c'?'c1':'c2'","as":"col"}
],
"facet":{"row":{"field":"row","type":"nominal","header":null},"column":{"field":"col","type":"nominal","header":null}},
"spacing":{"row":36,"column":36},
"bounds":"flush",
"resolve":{"axis":{"x":"independent"}},
"spec":{
"width":292,"height":175,
"encoding":{
"x":{"field":"x","type":"quantitative","scale":{"domain":[278.4,298.7],"reverse":true,"nice":false,"zero":false},
"axis":{"values":[296,292,288,284,280],"title":"Binding Energy (eV)","grid":false,"tickSize":3,"domainColor":"#999999","tickColor":"#999999","labelFont":"Liberation Serif","labelFontSize":11,"labelColor":"#555555","labelPadding":2,"titleFont":"Liberation Serif","titleFontSize":16,"titleFontWeight":"normal","titleColor":"#222222","titlePadding":0}},
"y":{"field":"y","type":"quantitative","scale":{"domain":[0,175],"nice":false,"zero":false},"axis":null}
},
"layer":[
{"transform":[{"filter":"datum.k=='raw'"}],"mark":{"type":"line","interpolate":"monotone","stroke":"#9a9a9a","strokeWidth":1},"encoding":{"detail":{"field":"s"}}},
{"transform":[{"filter":"datum.k=='comp'"}],"mark":{"type":"line","interpolate":"monotone","stroke":"#8a8a8a","strokeWidth":1.1},"encoding":{"detail":{"field":"s"}}},
{"transform":[{"filter":"datum.k=='base'"}],"mark":{"type":"line","interpolate":"monotone","stroke":"#2a2a2a","strokeWidth":1.6},"encoding":{}},
{"transform":[{"filter":"datum.k=='env'"}],"mark":{"type":"line","interpolate":"monotone","stroke":"#1a1a1a","strokeWidth":2},"encoding":{}},
{"transform":[{"filter":"datum.k=='lead'"}],"mark":{"type":"line","stroke":"#9a9a9a","strokeWidth":0.9},"encoding":{"detail":{"field":"s"}}},
{"transform":[{"filter":"datum.k=='lab'"}],"mark":{"type":"text","font":"Liberation Serif","fontSize":15,"fill":"#333333","align":"center","baseline":"middle"},"encoding":{"text":{"field":"t"}}},
{"transform":[{"filter":"datum.k=='tag'"}],"mark":{"type":"text","font":"Liberation Serif","fontSize":14,"fill":"#333333","align":"center","baseline":"middle"},"encoding":{"text":{"field":"t"}}}
]
}
}
